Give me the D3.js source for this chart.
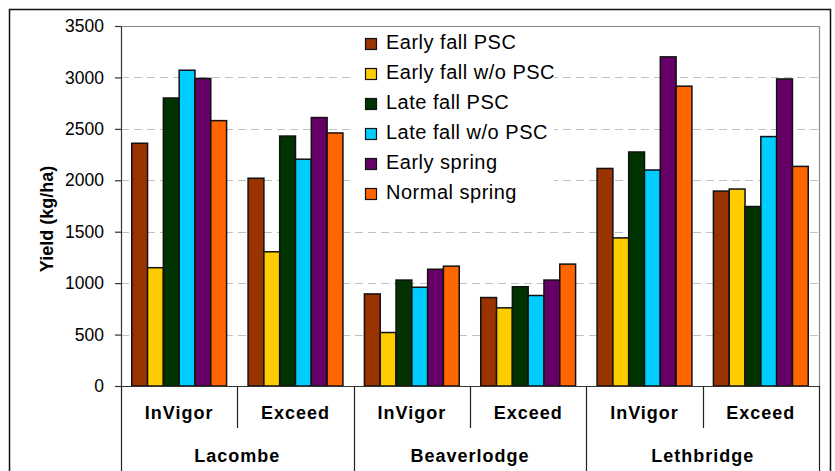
<!DOCTYPE html>
<html>
<head>
<meta charset="utf-8">
<script src="https://cdn.jsdelivr.net/npm/d3@7"></script>
<style>
  body { margin: 0; background: #fff; }
  text { font-family: "Liberation Sans", Arial, sans-serif; }
</style>
</head>
<body>
<div id="vis"></div>
<script>
var sites = ['Lacombe', 'Beaverlodge', 'Lethbridge'];
var cultivars = ['InVigor', 'Exceed'];
var series_names = ['Early fall PSC', 'Early fall w/o PSC', 'Late fall PSC',
                    'Late fall w/o PSC', 'Early spring', 'Normal spring'];
var series_colors = ['#993300', '#FFCC00', '#003300', '#00CCFF', '#660066', '#FF6600'];

// one value per site/cultivar group, in order Lacombe InVigor, Lacombe Exceed, ...
var early_fall_psc    = [2360, 2020, 895, 860, 2115, 1895];
var early_fall_no_psc = [1150, 1305, 520, 760, 1440, 1915];
var late_fall_psc     = [2800, 2430, 1030, 965, 2275, 1745];
var late_fall_no_psc  = [3070, 2205, 960, 880, 2100, 2425];
var early_spring      = [2990, 2610, 1135, 1030, 3200, 2985];
var normal_spring     = [2580, 2460, 1165, 1185, 2915, 2135];

var y_ticks = [0, 500, 1000, 1500, 2000, 2500, 3000, 3500];

var series_values = [early_fall_psc, early_fall_no_psc, late_fall_psc,
                     late_fall_no_psc, early_spring, normal_spring];

var groups = [];
sites.forEach(function(s) {
  cultivars.forEach(function(c) {
    groups.push({site: s, cultivar: c, key: s + '|' + c});
  });
});
groups.forEach(function(g, i) {
  g.values = series_names.map(function(n, j) {
    return {name: n, value: series_values[j][i]};
  });
});

var width = 835, height = 471;
var margin = {top: 26, bottom: 85, left: 121, right: 16};

var svg = d3.select('#vis')
  .append('svg')
  .attr('width', width)
  .attr('height', height);

// outer chart border
svg.append('rect')
  .attr('x', 9.5).attr('y', 9.5)
  .attr('width', 821).attr('height', 480)
  .attr('fill', 'none')
  .attr('stroke', '#111')
  .attr('stroke-width', 1.5);

var plot_bottom = height - margin.bottom;
var plot_right = width - margin.right;

var y_scale = d3.scaleLinear()
  .domain([0, 3500])
  .range([plot_bottom, margin.top]);

var x0 = d3.scaleBand()
  .domain(groups.map(function(g) { return g.key; }))
  .range([margin.left, plot_right])
  .padding(0);

var x1 = d3.scaleBand()
  .domain(series_names)
  .range([0, x0.bandwidth()])
  .paddingInner(0)
  .paddingOuter(0.68);

var color = d3.scaleOrdinal().domain(series_names).range(series_colors);

// gridlines
svg.append('g')
  .selectAll('line')
  .data(y_ticks.filter(function(d) { return d > 0 && d < 3500; }))
  .enter()
  .append('line')
  .attr('x1', margin.left)
  .attr('x2', plot_right)
  .attr('y1', function(d) { return Math.round(y_scale(d)) + 0.5; })
  .attr('y2', function(d) { return Math.round(y_scale(d)) + 0.5; })
  .attr('stroke', '#c0c0c0')
  .attr('stroke-width', 1)
  .attr('stroke-dasharray', '8,5');

// plot area top and right border
svg.append('path')
  .attr('d', 'M' + margin.left + ',' + (y_scale(3500) + 0.5) +
             'H' + (plot_right + 0.5) + 'V' + plot_bottom)
  .attr('fill', 'none')
  .attr('stroke', '#888')
  .attr('stroke-width', 1.2);

// legend background + entries
var legend = svg.append('g').attr('transform', 'translate(350,27)');
legend.append('rect')
  .attr('width', 204).attr('height', 178)
  .attr('fill', '#fff');

var items = legend.selectAll('.item')
  .data(series_names)
  .enter()
  .append('g')
  .attr('class', 'item')
  .attr('transform', function(d, i) { return 'translate(0,' + (15 + i * 30) + ')'; });

items.append('rect')
  .attr('x', 15.5).attr('y', -3.5)
  .attr('width', 11).attr('height', 11)
  .attr('fill', function(d) { return color(d); })
  .attr('stroke', '#111')
  .attr('stroke-width', 1.2);

items.append('text')
  .attr('x', 36)
  .attr('y', 0)
  .attr('dy', '0.35em')
  .style('font-size', '20px')
  .style('letter-spacing', '0.5px')
  .style('fill', '#000')
  .text(function(d) { return d; });

// bars
var group_g = svg.append('g')
  .selectAll('.group')
  .data(groups)
  .enter()
  .append('g')
  .attr('class', 'group')
  .attr('transform', function(d) { return 'translate(' + x0(d.key) + ',0)'; });

group_g.selectAll('rect')
  .data(function(d) { return d.values; })
  .enter()
  .append('rect')
  .attr('x', function(d) { return x1(d.name); })
  .attr('width', x1.bandwidth())
  .attr('y', function(d) { return y_scale(d.value); })
  .attr('height', function(d) { return plot_bottom - y_scale(d.value); })
  .attr('fill', function(d) { return color(d.name); })
  .attr('stroke', '#111')
  .attr('stroke-width', 1.5);

// y axis
var y_axis = d3.axisLeft(y_scale)
  .tickValues(y_ticks)
  .tickFormat(d3.format('d'))
  .tickSize(6)
  .tickSizeOuter(0)
  .tickPadding(11);

var y_g = svg.append('g')
  .attr('class', 'y axis')
  .attr('transform', 'translate(' + margin.left + ',0)')
  .call(y_axis);
y_g.selectAll('path, line').attr('stroke', '#333').attr('stroke-width', 1.2);
y_g.selectAll('text')
  .style('font-size', '17.5px')
  .style('font-family', '"Liberation Sans", Arial, sans-serif')
  .attr('fill', '#000');

// y label
svg.append('text')
  .attr('transform', 'translate(47,219) rotate(-90)')
  .attr('text-anchor', 'middle')
  .attr('dy', '0.35em')
  .style('font-size', '18px')
  .style('font-weight', 'bold')
  .text('Yield (kg/ha)');

// category axis
svg.append('line')
  .attr('x1', margin.left - 6).attr('x2', plot_right)
  .attr('y1', plot_bottom + 0.5).attr('y2', plot_bottom + 0.5)
  .attr('stroke', '#333').attr('stroke-width', 1.2);

var cat = svg.append('g').attr('class', 'cat axis');

// separators between cultivars (short) and sites (long)
groups.forEach(function(g, i) {
  var left = x0(g.key);
  var is_site_start = (i % cultivars.length === 0);
  cat.append('line')
    .attr('x1', Math.round(left) + 0.5).attr('x2', Math.round(left) + 0.5)
    .attr('y1', plot_bottom)
    .attr('y2', is_site_start ? height : plot_bottom + 42)
    .attr('stroke', '#222').attr('stroke-width', 1.2);
  cat.append('text')
    .attr('x', left + x0.bandwidth() / 2)
    .attr('y', plot_bottom + 27)
    .attr('dy', '0.35em')
    .attr('text-anchor', 'middle')
    .style('font-size', '18px')
    .style('font-weight', 'bold')
    .style('letter-spacing', '1px')
    .text(g.cultivar);
});
cat.append('line')
  .attr('x1', Math.round(plot_right) + 0.5).attr('x2', Math.round(plot_right) + 0.5)
  .attr('y1', plot_bottom).attr('y2', height)
  .attr('stroke', '#222').attr('stroke-width', 1.2);

sites.forEach(function(s) {
  var first = x0(s + '|' + cultivars[0]);
  var last = x0(s + '|' + cultivars[cultivars.length - 1]) + x0.bandwidth();
  cat.append('text')
    .attr('x', (first + last) / 2)
    .attr('y', plot_bottom + 70)
    .attr('dy', '0.35em')
    .attr('text-anchor', 'middle')
    .style('font-size', '18px')
    .style('font-weight', 'bold')
    .style('letter-spacing', '1px')
    .text(s);
});
</script>
</body>
</html>
